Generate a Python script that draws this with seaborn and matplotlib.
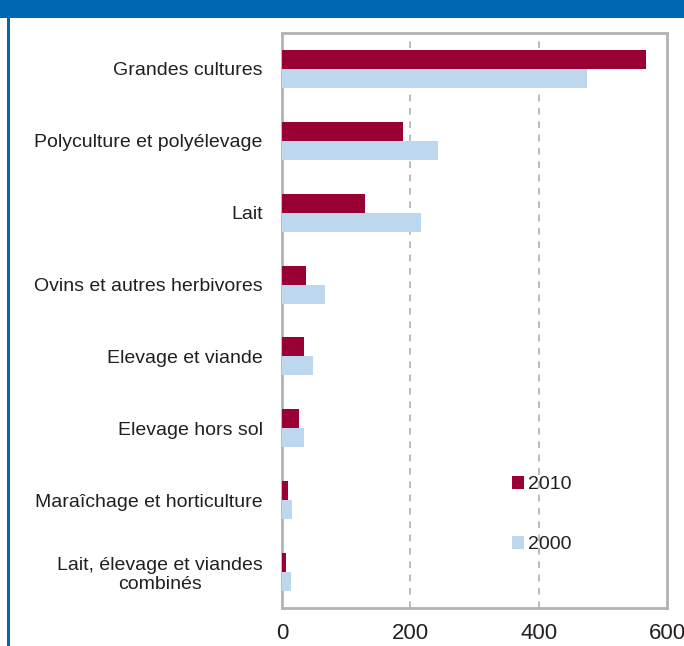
import matplotlib
matplotlib.use("Agg")
import matplotlib.pyplot as plt
from matplotlib.patches import Rectangle
import seaborn as sns
import pandas as pd

categories = [
    "Grandes cultures",
    "Polyculture et polyélevage",
    "Lait",
    "Ovins et autres herbivores",
    "Elevage et viande",
    "Elevage hors sol",
    "Maraîchage et horticulture",
    "Lait, élevage et viandes\ncombinés",
]
values_2010 = [567, 188, 129, 38, 34, 27, 9, 6]
values_2000 = [476, 243, 217, 67, 48, 35, 16, 14]
years = ["2010", "2000"]
x_ticks = [0, 200, 400, 600]

df = pd.DataFrame({
    "cat": categories * 2,
    "val": values_2010 + values_2000,
    "year": ["2010"] * len(categories) + ["2000"] * len(categories),
})

sns.set_theme(style="white")
plt.rcParams["font.family"] = ["Liberation Sans", "DejaVu Sans"]

fig = plt.figure(figsize=(6.84, 6.46), dpi=100)
fig.patch.set_facecolor("white")
# header band and left border
fig.patches.append(Rectangle((0, 1 - 18 / 646), 1, 18 / 646, transform=fig.transFigure,
                             facecolor="#0068B3", edgecolor="none", zorder=0))
fig.patches.append(Rectangle((7 / 684, 0), 3 / 684, 1, transform=fig.transFigure,
                             facecolor="#0068B3", edgecolor="none", zorder=0))

ax = fig.add_axes([282 / 684, 38 / 646, 385 / 684, 575 / 646])
palette = {"2010": "#990033", "2000": "#BDD7EE"}
sns.barplot(data=df, y="cat", x="val", hue="year", hue_order=years, palette=palette,
            orient="h", width=0.53, ax=ax, saturation=1, edgecolor="none", zorder=3)

ax.set_xlim(0, 600)
ax.set_xticks(x_ticks)
ax.set_xticklabels([str(t) for t in x_ticks], fontsize=16, color="#231F20")
ax.set_xlabel("")
ax.set_ylabel("")
ax.tick_params(axis="x", length=0, pad=11)
ax.tick_params(axis="y", length=0, pad=14)
for lab in ax.get_yticklabels():
    lab.set_fontsize(14)
    lab.set_color("#231F20")
    lab.set_multialignment("center")
    lab.set_linespacing(1.15)

for xv in [200, 400]:
    ax.axvline(xv, color="#B0B0B0", linestyle=(0, (4, 4)), linewidth=1.2, zorder=1)

for s in ax.spines.values():
    s.set_color("#B3B3B3")
    s.set_linewidth(2)
ax.grid(False)

leg = ax.legend(loc="center left", bbox_to_anchor=(0.552, 0.162), frameon=False,
                fontsize=14, handlelength=0.62, handleheight=0.62, handletextpad=0.2,
                labelspacing=2.2)
for t in leg.get_texts():
    t.set_color("#231F20")

fig.savefig("out.png", dpi=100)
